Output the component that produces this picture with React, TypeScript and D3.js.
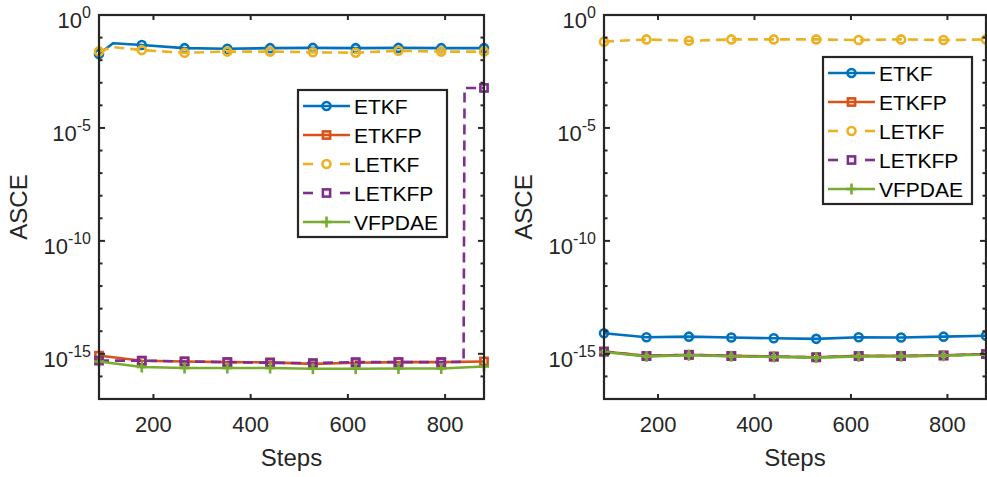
import React, { useRef, useEffect } from "react";
import * as d3 from "d3";

// marker positions (steps) shared by all curves
const STEPS = [88, 176, 264, 352, 440, 528, 616, 704, 792, 880];
// left panel: finer grid where the start of the curves bends
const STEPS_FINE = [88, 117, 176, 264, 352, 440, 528, 616, 704, 792, 880];
// left panel LETKFP blows up near the end
const STEPS_JUMP = [88, 176, 264, 352, 440, 528, 616, 704, 792, 838, 840, 880];

const NAMES = ["ETKF", "ETKFP", "LETKF", "LETKFP", "VFPDAE"];

// left panel
const ETKF_L = [1.86e-2, 5.6e-2, 4.7e-2, 3.4e-2, 3.2e-2, 3.4e-2, 3.5e-2, 3.4e-2, 3.5e-2, 3.4e-2, 3.4e-2];
const ETKFP_L = [8.3e-16, 7.1e-16, 4.9e-16, 4.6e-16, 4.3e-16, 4.2e-16, 3.6e-16, 4.0e-16, 4.3e-16, 4.3e-16, 4.6e-16];
const LETKF_L = [2.45e-2, 3.8e-2, 2.8e-2, 2.14e-2, 2.4e-2, 2.4e-2, 2.24e-2, 2.14e-2, 2.6e-2, 2.4e-2, 2.4e-2];
const LETKFP_L = [5.0e-16, 5.0e-16, 4.6e-16, 4.3e-16, 4.0e-16, 3.9e-16, 4.3e-16, 4.3e-16, 4.3e-16, 4.4e-16, 5.9e-4, 5.9e-4];
const VFPDAE_L = [4.6e-16, 2.6e-16, 2.35e-16, 2.35e-16, 2.35e-16, 2.2e-16, 2.2e-16, 2.25e-16, 2.25e-16, 2.75e-16];

// right panel
const ETKF_R = [8.1e-15, 5.4e-15, 5.75e-15, 5.25e-15, 4.9e-15, 4.6e-15, 5.4e-15, 5.25e-15, 5.75e-15, 6.3e-15];
const ETKFP_R = [1.26e-15, 8.1e-16, 9.1e-16, 8.1e-16, 7.6e-16, 7.1e-16, 8.1e-16, 8.1e-16, 8.5e-16, 9.8e-16];
const LETKF_R = [6.6e-2, 8.3e-2, 7.2e-2, 8.3e-2, 8.3e-2, 8.3e-2, 7.8e-2, 8.3e-2, 7.8e-2, 8.3e-2];
const LETKFP_R = [1.25e-15, 8.0e-16, 9.0e-16, 8.0e-16, 7.5e-16, 7.0e-16, 8.0e-16, 8.0e-16, 8.4e-16, 9.7e-16];
const VFPDAE_R = [1.2e-15, 7.7e-16, 8.6e-16, 7.8e-16, 7.3e-16, 6.8e-16, 7.7e-16, 7.8e-16, 8.2e-16, 9.4e-16];

const X_TICKS = [200, 400, 600, 800];
const Y_LABEL_EXP = [0, -5, -10, -15];

const COLORS = ["#0072BD", "#D95319", "#EDB120", "#7E2F8E", "#77AC30"];
const MARKERS = ["circle", "square", "circle", "square", "plus"];
const DASHED = [false, false, true, true, false];
const AXIS = "#262626";
const FONT = "'Liberation Sans', Arial, sans-serif";
const LW = 2.6;

const drawMarker = (g, type, x, y, color) => {
  if (type === "circle") {
    g.append("circle").attr("cx", x).attr("cy", y).attr("r", 4)
      .attr("fill", "none").attr("stroke", color).attr("stroke-width", LW);
  } else if (type === "square") {
    g.append("rect").attr("x", x - 3.6).attr("y", y - 3.6)
      .attr("width", 7.2).attr("height", 7.2)
      .attr("fill", "none").attr("stroke", color).attr("stroke-width", LW);
  } else {
    g.append("line").attr("x1", x - 5).attr("x2", x + 5).attr("y1", y).attr("y2", y)
      .attr("stroke", color).attr("stroke-width", LW);
    g.append("line").attr("x1", x).attr("x2", x).attr("y1", y - 5.5).attr("y2", y + 5.5)
      .attr("stroke", color).attr("stroke-width", LW);
  }
};

const drawPanel = (svg, p) => {
  const x = d3.scaleLinear().domain([88, 880]).range([p.x0, p.x1]);
  const y = d3.scaleLog().domain([1e-17, 1]).range([p.y1, p.y0]);
  const g = svg.append("g");

  // curves
  const line = d3.line().x((d) => x(d[0])).y((d) => y(d[1]));
  p.series.forEach((s, i) => {
    const pts = s.steps.map((st, k) => [st, s.values[k]]);
    g.append("path").datum(pts).attr("d", line)
      .attr("fill", "none").attr("stroke", COLORS[i]).attr("stroke-width", LW)
      .attr("stroke-linejoin", "round")
      .attr("stroke-dasharray", DASHED[i] ? "10,6" : null);
    pts.filter((d) => STEPS.includes(d[0])).forEach((d) =>
      drawMarker(g, MARKERS[i], x(d[0]), y(d[1]), COLORS[i])
    );
  });

  // box
  g.append("rect").attr("x", p.x0).attr("y", p.y0)
    .attr("width", p.x1 - p.x0).attr("height", p.y1 - p.y0)
    .attr("fill", "none").attr("stroke", AXIS).attr("stroke-width", 2.2);

  // x ticks + labels
  X_TICKS.forEach((t) => {
    g.append("line").attr("x1", x(t)).attr("x2", x(t)).attr("y1", p.y1).attr("y2", p.y1 - 5)
      .attr("stroke", AXIS).attr("stroke-width", 2);
    g.append("line").attr("x1", x(t)).attr("x2", x(t)).attr("y1", p.y0).attr("y2", p.y0 + 5)
      .attr("stroke", AXIS).attr("stroke-width", 2);
    g.append("text").attr("x", x(t)).attr("y", p.y1 + 33)
      .attr("text-anchor", "middle").attr("font-family", FONT).attr("font-size", 22)
      .attr("fill", AXIS).text(t);
  });

  // y ticks every decade, longer where labelled
  d3.range(-16, 0).forEach((e) => {
    const major = Y_LABEL_EXP.includes(e);
    const len = major ? 6 : 3.5;
    const yy = y(Math.pow(10, e));
    g.append("line").attr("x1", p.x0).attr("x2", p.x0 + len).attr("y1", yy).attr("y2", yy)
      .attr("stroke", AXIS).attr("stroke-width", 2);
    g.append("line").attr("x1", p.x1).attr("x2", p.x1 - len).attr("y1", yy).attr("y2", yy)
      .attr("stroke", AXIS).attr("stroke-width", 2);
  });
  Y_LABEL_EXP.forEach((e) => {
    const yy = y(Math.pow(10, e));
    const t = g.append("text").attr("x", p.x0 - 8).attr("y", yy + 13)
      .attr("text-anchor", "end").attr("font-family", FONT).attr("fill", AXIS)
      .attr("font-size", 22);
    t.append("tspan").text("10");
    t.append("tspan").attr("dy", -10).attr("font-size", 16).text(e);
  });

  // axis labels
  g.append("text").attr("x", (p.x0 + p.x1) / 2).attr("y", p.y1 + 67)
    .attr("text-anchor", "middle").attr("font-family", FONT).attr("font-size", 24)
    .attr("fill", AXIS).text("Steps");
  g.append("text")
    .attr("transform", `translate(${p.x0 - 72}, ${(p.y0 + p.y1) / 2}) rotate(-90)`)
    .attr("text-anchor", "middle").attr("font-family", FONT).attr("font-size", 24)
    .attr("fill", AXIS).text("ASCE");

  // legend
  const lg = svg.append("g").attr("transform", `translate(${p.lx}, ${p.ly})`);
  lg.append("rect").attr("x", 0).attr("y", 0).attr("width", 149).attr("height", 147)
    .attr("fill", "#fff").attr("stroke", AXIS).attr("stroke-width", 2.2);
  NAMES.forEach((name, i) => {
    const yy = 16 + i * 29;
    if (DASHED[i]) {
      [[5, 15], [42, 52]].forEach(([a, b]) =>
        lg.append("line").attr("x1", a).attr("x2", b).attr("y1", yy).attr("y2", yy)
          .attr("stroke", COLORS[i]).attr("stroke-width", LW)
      );
    } else {
      lg.append("line").attr("x1", 5).attr("x2", 52).attr("y1", yy).attr("y2", yy)
        .attr("stroke", COLORS[i]).attr("stroke-width", LW);
    }
    drawMarker(lg, MARKERS[i], 28.5, yy, COLORS[i]);
    lg.append("text").attr("x", 56).attr("y", yy + 7.5)
      .attr("font-family", FONT).attr("font-size", 21).attr("fill", "#000").text(name);
  });
};

const App = () => {
  const ref = useRef(null);

  useEffect(() => {
    const svg = d3.select(ref.current);
    svg.selectAll("*").remove();

    drawPanel(svg, {
      x0: 99, x1: 484, y0: 15, y1: 399, lx: 298, ly: 90,
      series: [
        { steps: STEPS_FINE, values: ETKF_L },
        { steps: STEPS_FINE, values: ETKFP_L },
        { steps: STEPS_FINE, values: LETKF_L },
        { steps: STEPS_JUMP, values: LETKFP_L },
        { steps: STEPS, values: VFPDAE_L },
      ],
    });
    drawPanel(svg, {
      x0: 604, x1: 986, y0: 15, y1: 399, lx: 823, ly: 57,
      series: [
        { steps: STEPS, values: ETKF_R },
        { steps: STEPS, values: ETKFP_R },
        { steps: STEPS, values: LETKF_R },
        { steps: STEPS, values: LETKFP_R },
        { steps: STEPS, values: VFPDAE_R },
      ],
    });
  }, []);

  return (
    <div style={{ position: "fixed", left: 0, top: 0 }}>
      <svg ref={ref} width={987} height={477} style={{ display: "block", background: "#fff" }} />
    </div>
  );
};

export default App;
